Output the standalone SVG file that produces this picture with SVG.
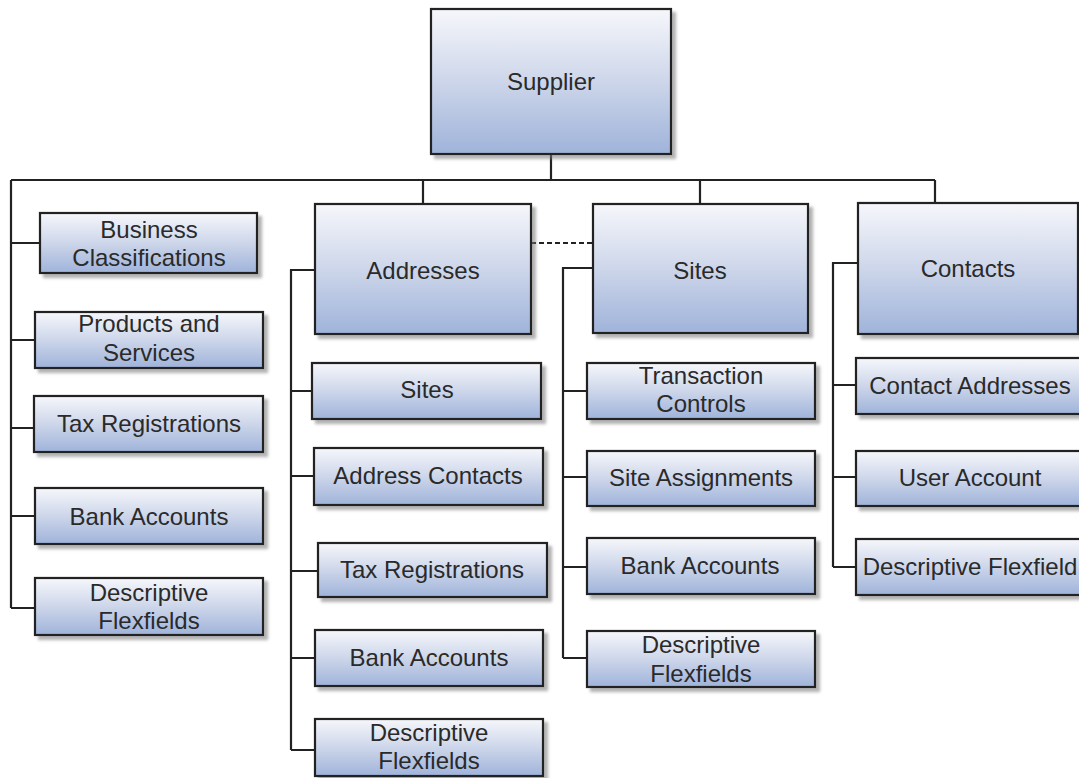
<svg xmlns="http://www.w3.org/2000/svg" width="1079" height="778" viewBox="0 0 1079 778">
<defs>
<linearGradient id="g" x1="0" y1="0" x2="0" y2="1">
<stop offset="0" stop-color="#f6f7fb"/>
<stop offset="0.5" stop-color="#cdd6ea"/>
<stop offset="1" stop-color="#9fb3da"/>
</linearGradient>
<filter id="sh" x="-10%" y="-10%" width="130%" height="140%">
<feDropShadow dx="4" dy="4" stdDeviation="1.5" flood-color="#777" flood-opacity="0.55"/>
</filter>
</defs>
<style>
.box{fill:url(#g);stroke:#222;stroke-width:2.2;filter:url(#sh)}
.t{font-family:"Liberation Sans",Arial,sans-serif;font-size:24px;fill:#2a2a2a;text-anchor:middle}
.c{fill:none;stroke:#222;stroke-width:2.2}
.d{fill:none;stroke:#222;stroke-width:2.2;stroke-dasharray:5 3}
</style>
<rect width="1079" height="778" fill="#fff"/>
<g id="connectors">
<path class="c" d="M551 154V180M11 180H935M11 180V608M423 180V204M700 180V204M935 180V203"/>
<path class="c" d="M11 243H40M11 340H35M11 428H34M11 516H35M11 608H35"/>
<path class="c" d="M315 270H291V750M291 391H312M291 476H314M291 571H318M291 658H315M291 750H315"/>
<path class="c" d="M593 268H563V658M563 391H587M563 477H587M563 567H587M563 658H587"/>
<path class="c" d="M858 263H833V567M833 385H856M833 477H856M833 567H856"/>
<path class="d" d="M531 243H593"/>
</g>
<g id="supplier"><rect class="box" x="431" y="9" width="240" height="145"/><text class="t" x="551" y="90">Supplier</text></g>
<g id="business-classifications"><rect class="box" x="40" y="213" width="217" height="60"/><text class="t" x="149" y="238">Business</text><text class="t" x="149" y="266">Classifications</text></g>
<g id="products-services"><rect class="box" x="35" y="312" width="228" height="56"/><text class="t" x="149" y="332">Products and</text><text class="t" x="149" y="361">Services</text></g>
<g id="tax-registrations-1"><rect class="box" x="34" y="396" width="229" height="56"/><text class="t" x="149" y="432">Tax Registrations</text></g>
<g id="bank-accounts-1"><rect class="box" x="35" y="488" width="228" height="56"/><text class="t" x="149" y="525">Bank Accounts</text></g>
<g id="descriptive-flexfields-1"><rect class="box" x="35" y="578" width="228" height="57"/><text class="t" x="149" y="601">Descriptive</text><text class="t" x="149" y="629">Flexfields</text></g>
<g id="addresses"><rect class="box" x="315" y="204" width="216" height="130"/><text class="t" x="423" y="279">Addresses</text></g>
<g id="addr-sites"><rect class="box" x="312" y="363" width="229" height="56"/><text class="t" x="427" y="398">Sites</text></g>
<g id="address-contacts"><rect class="box" x="314" y="448" width="229" height="57"/><text class="t" x="428" y="484">Address Contacts</text></g>
<g id="tax-registrations-2"><rect class="box" x="318" y="543" width="229" height="54"/><text class="t" x="432" y="578">Tax Registrations</text></g>
<g id="bank-accounts-2"><rect class="box" x="315" y="630" width="228" height="56"/><text class="t" x="429" y="666">Bank Accounts</text></g>
<g id="descriptive-flexfields-2"><rect class="box" x="315" y="719" width="228" height="57"/><text class="t" x="429" y="741">Descriptive</text><text class="t" x="429" y="769">Flexfields</text></g>
<g id="sites"><rect class="box" x="593" y="204" width="215" height="129"/><text class="t" x="700" y="279">Sites</text></g>
<g id="transaction-controls"><rect class="box" x="587" y="363" width="228" height="56"/><text class="t" x="701" y="384">Transaction</text><text class="t" x="701" y="412">Controls</text></g>
<g id="site-assignments"><rect class="box" x="587" y="451" width="228" height="55"/><text class="t" x="701" y="486">Site Assignments</text></g>
<g id="bank-accounts-3"><rect class="box" x="587" y="538" width="228" height="56"/><text class="t" x="700" y="574">Bank Accounts</text></g>
<g id="descriptive-flexfields-3"><rect class="box" x="587" y="631" width="228" height="56"/><text class="t" x="701" y="653">Descriptive</text><text class="t" x="701" y="682">Flexfields</text></g>
<g id="contacts"><rect class="box" x="858" y="203" width="220" height="131"/><text class="t" x="968" y="277">Contacts</text></g>
<g id="contact-addresses"><rect class="box" x="856" y="358" width="226" height="56"/><text class="t" x="970" y="394">Contact Addresses</text></g>
<g id="user-account"><rect class="box" x="856" y="451" width="226" height="55"/><text class="t" x="970" y="486">User Account</text></g>
<g id="descriptive-flexfield"><rect class="box" x="856" y="539" width="226" height="56"/><text class="t" x="970" y="575">Descriptive Flexfield</text></g>
</svg>
